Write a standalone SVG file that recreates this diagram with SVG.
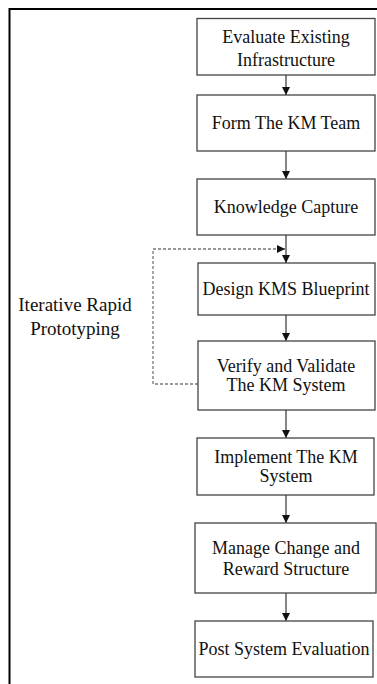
<svg xmlns="http://www.w3.org/2000/svg" width="377" height="684" viewBox="0 0 377 684">
<style>
.box{fill:#fff;stroke:#444;stroke-width:1.3}
.t{font-family:"Liberation Serif","Times New Roman",serif;font-size:18px;fill:#111;text-anchor:middle}
.lbl{font-family:"Liberation Serif","Times New Roman",serif;font-size:19px;fill:#111;text-anchor:middle}
.ln{stroke:#444;stroke-width:1.3;fill:none}
.dash{stroke:#777;stroke-width:1.3;fill:none;stroke-dasharray:3 2}
</style>
<defs>
<marker id="ah" viewBox="0 0 10 10" refX="10" refY="5" markerWidth="8" markerHeight="8" markerUnits="userSpaceOnUse" orient="auto">
<path d="M0,0 L10,5 L0,10 Z" fill="#111"/>
</marker>
</defs>
<rect width="377" height="684" fill="#fff"/>
<path d="M9.5,684 V9 H377" fill="none" stroke="#000" stroke-width="2"/>
<g id="label-irp">
<text class="lbl" x="75" y="311">Iterative Rapid</text>
<text class="lbl" x="75" y="335">Prototyping</text>
</g>
<g id="connectors">
<path class="ln" d="M286,75 V95" marker-end="url(#ah)"/>
<path class="ln" d="M286,151 V179" marker-end="url(#ah)"/>
<path class="ln" d="M286,235 V263" marker-end="url(#ah)"/>
<path class="ln" d="M286,315 V341" marker-end="url(#ah)"/>
<path class="ln" d="M286,410 V438" marker-end="url(#ah)"/>
<path class="ln" d="M286,495 V523" marker-end="url(#ah)"/>
<path class="ln" d="M286,593 V621" marker-end="url(#ah)"/>
<path class="dash" d="M198,384 H153 V249 H285" marker-end="url(#ah)"/>
</g>
<g id="n1">
<rect class="box" x="197" y="18.5" width="178" height="56.5"/>
<text class="t" x="286" y="43">Evaluate Existing</text>
<text class="t" x="286" y="66">Infrastructure</text>
</g>
<g id="n2">
<rect class="box" x="197" y="95" width="178" height="56"/>
<text class="t" x="286" y="129">Form The KM Team</text>
</g>
<g id="n3">
<rect class="box" x="197" y="179" width="178" height="56"/>
<text class="t" x="286" y="213">Knowledge Capture</text>
</g>
<g id="n4">
<rect class="box" x="198" y="263" width="177" height="52"/>
<text class="t" x="286" y="295">Design KMS Blueprint</text>
</g>
<g id="n5">
<rect class="box" x="198" y="341" width="177" height="69"/>
<text class="t" x="286" y="372">Verify and Validate</text>
<text class="t" x="286" y="391">The KM System</text>
</g>
<g id="n6">
<rect class="box" x="197" y="438" width="177" height="57"/>
<text class="t" x="286" y="463">Implement The KM</text>
<text class="t" x="286" y="482">System</text>
</g>
<g id="n7">
<rect class="box" x="195" y="523" width="181" height="70"/>
<text class="t" x="286" y="554">Manage Change and</text>
<text class="t" x="286" y="575">Reward Structure</text>
</g>
<g id="n8">
<rect class="box" x="195" y="621" width="178" height="56"/>
<text class="t" x="284" y="655">Post System Evaluation</text>
</g>
</svg>
